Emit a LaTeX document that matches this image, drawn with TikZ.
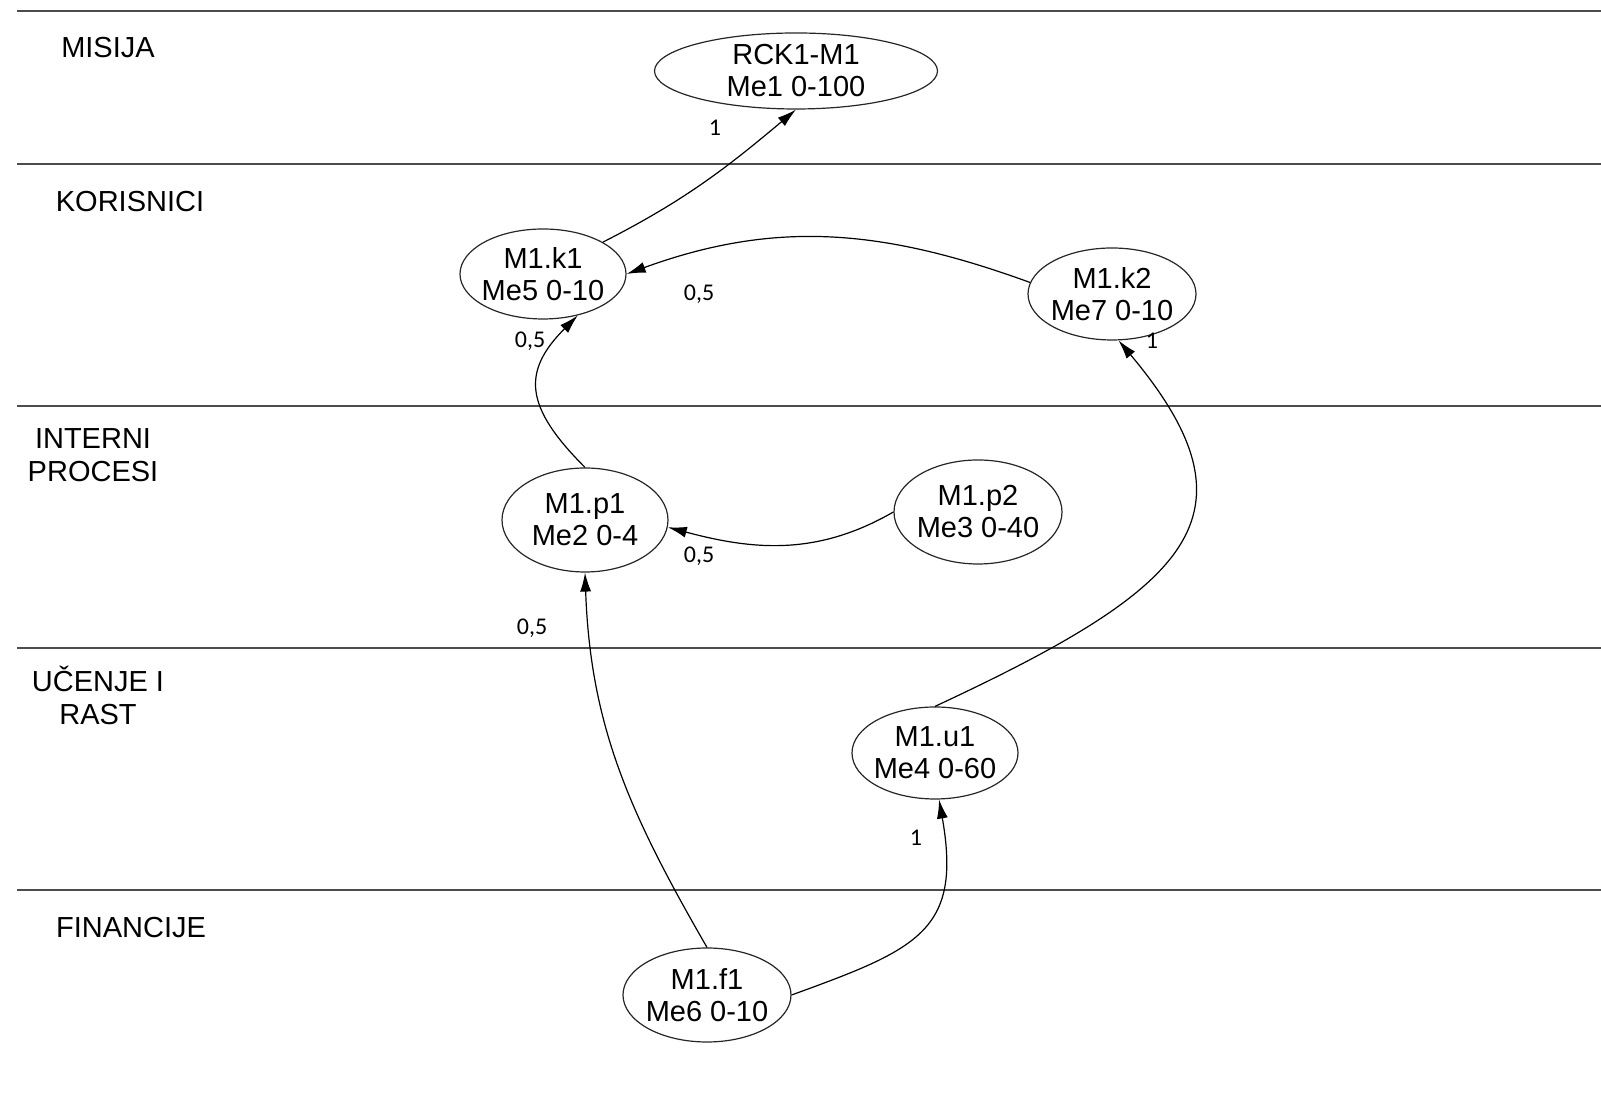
\documentclass[tikz,border=0pt]{standalone}
\usepackage{fontspec}
\setmainfont{Liberation Sans}
\newfontfamily\lblfont{Carlito}
\usetikzlibrary{arrows.meta,shapes.geometric}

\begin{document}
\begin{tikzpicture}[x=1pt,y=1pt,>={Latex[length=19pt,width=11pt]},
  obj/.style={draw=black!85,line width=1.2pt,ellipse,inner sep=-20pt,align=center,
    font=\fontsize{29}{32}\selectfont},
  lane/.style={align=center,inner sep=0pt,font=\fontsize{29}{33}\selectfont},
  wt/.style={anchor=base,inner sep=0pt,font={\lblfont\fontsize{24}{24}\selectfont}},
  edge/.style={->,line width=1.2pt},
  divider/.style={line width=2.6pt,black!70}]
  \useasboundingbox (0,0) rectangle (1601,1099);
%%
  % Lanes
  \foreach \ly in {1088,935,693,451,209}
    \draw [divider] (17,\ly) -- (1601,\ly);
  \node [lane] (misija) at (108,1051) {MISIJA};
  \node [lane] (korisnici) at (130,897.5) {KORISNICI};
  \node [lane] (interni) at (93,643.5) {INTERNI\\PROCESI};
  \node [lane] (ucenje) at (98,403.5) {UČENJE I\\RAST};
  \node [lane] (financije) at (131,171.5) {FINANCIJE};
  % Node: rck
  \node [obj,minimum width=283pt,minimum height=76pt] (rck) at (796,1028) {RCK1-M1\\Me1 0-100};
  % Node: k1
  \node [obj,minimum width=166pt,minimum height=90pt] (k1) at (543,825) {M1.k1\\Me5 0-10};
  % Node: k2
  \node [obj,minimum width=168pt,minimum height=92pt] (k2) at (1112,805) {M1.k2\\Me7 0-10};
  % Node: p1
  \node [obj,minimum width=166pt,minimum height=104pt] (p1) at (585,579) {M1.p1\\Me2 0-4};
  % Node: p2
  \node [obj,minimum width=168pt,minimum height=104pt] (p2) at (978,587) {M1.p2\\Me3 0-40};
  % Node: u1
  \node [obj,minimum width=166pt,minimum height=92pt] (u1) at (935,346) {M1.u1\\Me4 0-60};
  % Node: f1
  \node [obj,minimum width=168pt,minimum height=94pt] (f1) at (707,104) {M1.f1\\Me6 0-10};
  % Edge: k1 -> rck
  \draw [edge] (k1.28) to[out=27,in=220] (rck.south);
  \node [wt] (w1) at (715,963) {1};
  % Edge: k2 -> k1
  \draw [edge] (k2.172) to[out=160,in=20] (k1.east);
  \node [wt] (w2) at (699,798) {0,5};
  % Edge: p1 -> k1
  \draw [edge] (p1.north) to[out=135,in=225,out distance=85pt,in distance=80pt] (k1.-50);
  \node [wt] (w3) at (530,751) {0,5};
  % Edge: u1 -> k2
  \draw [edge] (u1.north) to[out=25,in=310,out distance=280pt,in distance=230pt] (k2.-82);
  \node [wt] (w4) at (1152,750) {1};
  % Edge: p2 -> p1
  \draw [edge] (p2.west) to[out=210,in=-15] (p1.-5);
  \node [wt] (w5) at (699,536) {0,5};
  % Edge: f1 -> p1
  \draw [edge] (f1.north) to[out=120,in=-88] (p1.south);
  \node [wt] (w6) at (532,464) {0,5};
  % Edge: f1 -> u1
  \draw [edge] (f1.east) to[out=20,in=280,looseness=1.4] (u1.-85);
  \node [wt] (w7) at (916,253) {1};
%
\end{tikzpicture}
\end{document}
